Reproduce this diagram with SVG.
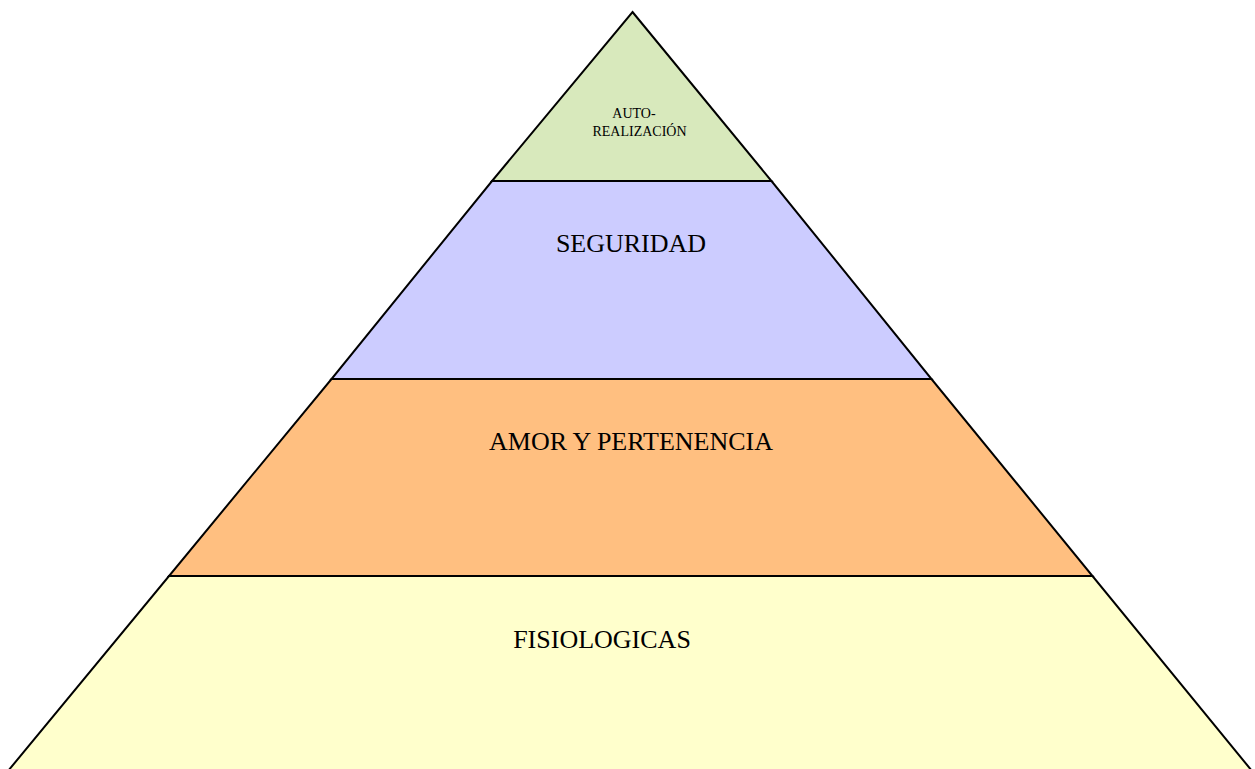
<svg xmlns="http://www.w3.org/2000/svg" width="1255" height="769" viewBox="0 0 1255 769">
<style>
.lvl{stroke:#000;stroke-width:2;stroke-linejoin:miter}
.t{font-family:"Liberation Serif","Times New Roman",serif;fill:#000;text-anchor:middle}
.big{font-size:26px}
.small{font-size:14px}
</style>
<rect width="1255" height="769" fill="#fff"/>
<g id="fisiologicas">
<polygon class="lvl" fill="#ffffcc" points="169,576 1092.5,576 1252,771 8,771"/>
<text class="t big" x="602" y="648">FISIOLOGICAS</text>
</g>
<g id="amor">
<polygon class="lvl" fill="#ffbf80" points="331.5,379 931.5,379 1092.5,576 169,576"/>
<text class="t big" x="631" y="450">AMOR Y PERTENENCIA</text>
</g>
<g id="seguridad">
<polygon class="lvl" fill="#ccccff" points="492,181 771.5,181 931.5,379 331.5,379"/>
<text class="t big" x="631" y="252">SEGURIDAD</text>
</g>
<g id="autorealizacion">
<polygon class="lvl" fill="#d8e9bc" points="632.5,12 771.5,181 492,181"/>
<text class="t small" x="634" y="118">AUTO-</text>
<text class="t small" x="639.5" y="136">REALIZACIÓN</text>
</g>
</svg>
